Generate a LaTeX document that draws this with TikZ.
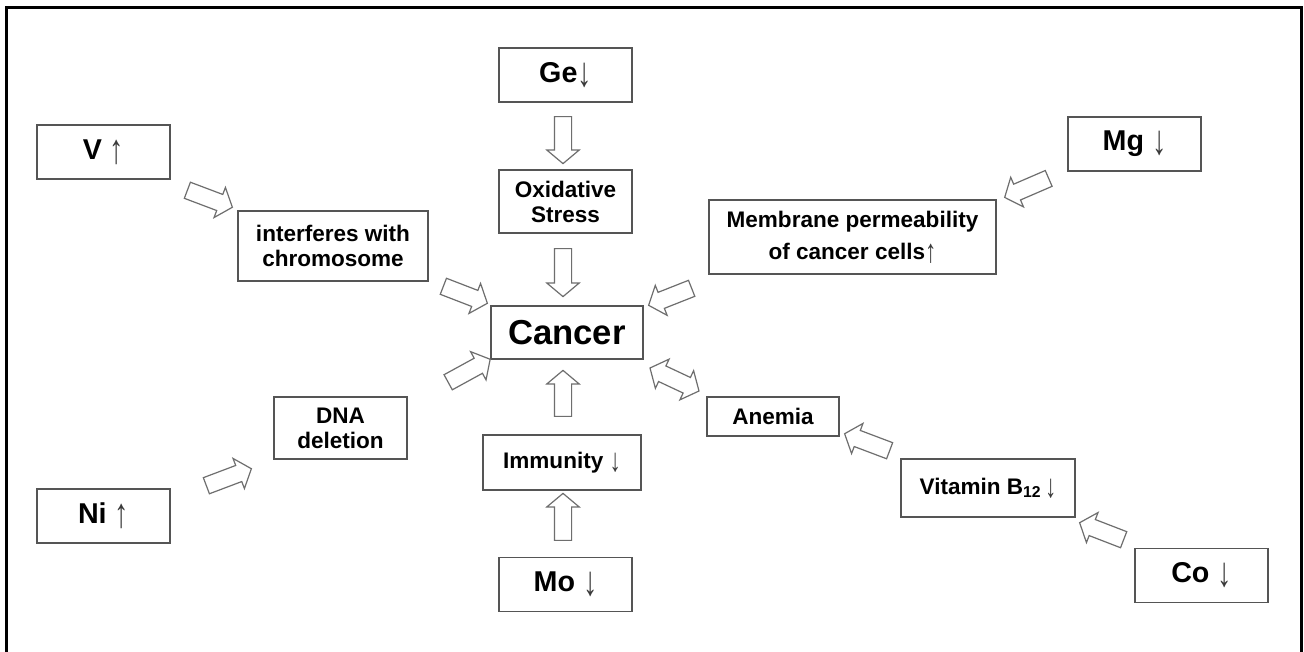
\documentclass[tikz,border=0pt]{standalone}
\usepackage{fontspec}
\usepackage{graphicx}
\setmainfont{Liberation Sans}
\usetikzlibrary{shapes.arrows,calc}
\newlength\px
\setlength\px{0.75pt}
\definecolor{boxgray}{HTML}{555555}
\definecolor{arrgray}{HTML}{6E6E6E}
\definecolor{symgray}{HTML}{3A3A3A}
\newcommand\up{{\mdseries\color{symgray}\raisebox{-0.14em}{\scalebox{1}[1.45]{↑}}}}
\newcommand\dn{{\mdseries\color{symgray}\raisebox{-0.14em}{\scalebox{1}[1.45]{↓}}}}
\newcommand\blockarrow[4]{%
  \path let \p1=(#3), \p2=(#4), \n1={veclen(\x2-\x1,\y2-\y1)} in
    (#3) -- (#4) node[#2, midway, sloped, allow upside down, minimum height=\n1] (#1) {};}
\tikzset{
  box/.style={draw=boxgray, line width=1.1pt, fill=white, inner sep=0pt, align=center,
    font=\bfseries\fontsize{16.9}{18.75}\selectfont},
  elem/.style={box, minimum width=133\px, minimum height=54\px,
    font=\bfseries\fontsize{21.5}{24}\selectfont},
  barrow/.style={single arrow, draw=arrgray, line width=0.9pt, fill=white,
    inner xsep=0pt, inner ysep=8\px, minimum width=31\px,
    single arrow head extend=7.5\px, single arrow tip angle=100},
  dbarrow/.style={double arrow, draw=arrgray, line width=0.9pt, fill=white,
    inner xsep=0pt, inner ysep=8\px, minimum width=31\px,
    double arrow head extend=7.5\px, double arrow tip angle=100},
}
\begin{document}
\begin{tikzpicture}[x=0.75pt, y=-0.75pt]
\useasboundingbox (0,0) rectangle (1304,652);
\fill[white] (0,0) rectangle (1304,652);
\draw[line width=2.25pt] (6,7.5) rectangle (1301.5,720);

% element boxes
\node[elem] (ge) at (565.5,75) {Ge\dn};
\node[elem] (v)  at (103.5,152) {V \up};
\node[elem] (mg) at (1134.5,144) {Mg \dn};
\node[elem] (ni) at (103.5,516) {Ni \up};
\node[elem] (mo) at (565.5,584.5) {Mo \dn};
\node[elem] (co) at (1201.5,575.5) {Co \dn};

% intermediate boxes
\node[box, minimum width=133\px, minimum height=63\px] (ox) at (565.5,201.5) {Oxidative\\Stress};
\node[box, minimum width=190\px, minimum height=70\px] (int) at (333,246) {interferes with\\chromosome};
\node[box, minimum width=287\px, minimum height=74\px, font=\bfseries\fontsize{16.9}{24}\selectfont] (mem) at (852.5,237) {Membrane permeability\\of cancer cells\up};
\node[box, minimum width=152\px, minimum height=53\px, font=\bfseries\fontsize{26}{30}\selectfont] (can) at (567,332.5) {Cancer};
\node[box, minimum width=133\px, minimum height=62\px] (dna) at (340.5,428) {DNA\\deletion};
\node[box, minimum width=132\px, minimum height=39\px] (ane) at (773,416.5) {Anemia};
\node[box, minimum width=158\px, minimum height=55\px] (imm) at (562,462.5) {Immunity \dn};
\node[box, minimum width=174\px, minimum height=58\px] (vit) at (988,488) {Vitamin B\textsubscript{12}\,\dn};

% arrow end points
\coordinate (t1) at (563,113);   \coordinate (h1) at (563,160);
\coordinate (t2) at (563,245);   \coordinate (h2) at (563,293);
\coordinate (t3) at (563,420);   \coordinate (h3) at (563,374);
\coordinate (t4) at (563,544);   \coordinate (h4) at (563,497);
\coordinate (t5) at (184,189);   \coordinate (h5) at (229,206);
\coordinate (t6) at (440,285);   \coordinate (h6) at (484,302);
\coordinate (t7) at (695,287);   \coordinate (h7) at (652,304);
\coordinate (t8) at (445,384);   \coordinate (h8) at (487,361);
\coordinate (t9) at (203,487);   \coordinate (h9) at (248,470);
\coordinate (t10) at (1052,177); \coordinate (h10) at (1008,196);
\coordinate (t11) at (650,368);  \coordinate (h11) at (699,391);
\coordinate (t12) at (893,452);  \coordinate (h12) at (848,435);
\coordinate (t13) at (1127,541); \coordinate (h13) at (1083,524);

\blockarrow{a1}{barrow}{t1}{h1}
\blockarrow{a2}{barrow}{t2}{h2}
\blockarrow{a3}{barrow}{t3}{h3}
\blockarrow{a4}{barrow}{t4}{h4}
\blockarrow{a5}{barrow}{t5}{h5}
\blockarrow{a6}{barrow}{t6}{h6}
\blockarrow{a7}{barrow}{t7}{h7}
\blockarrow{a8}{barrow}{t8}{h8}
\blockarrow{a9}{barrow}{t9}{h9}
\blockarrow{a10}{barrow}{t10}{h10}
\blockarrow{a11}{dbarrow}{t11}{h11}
\blockarrow{a12}{barrow}{t12}{h12}
\blockarrow{a13}{barrow}{t13}{h13}
\end{tikzpicture}
\end{document}
